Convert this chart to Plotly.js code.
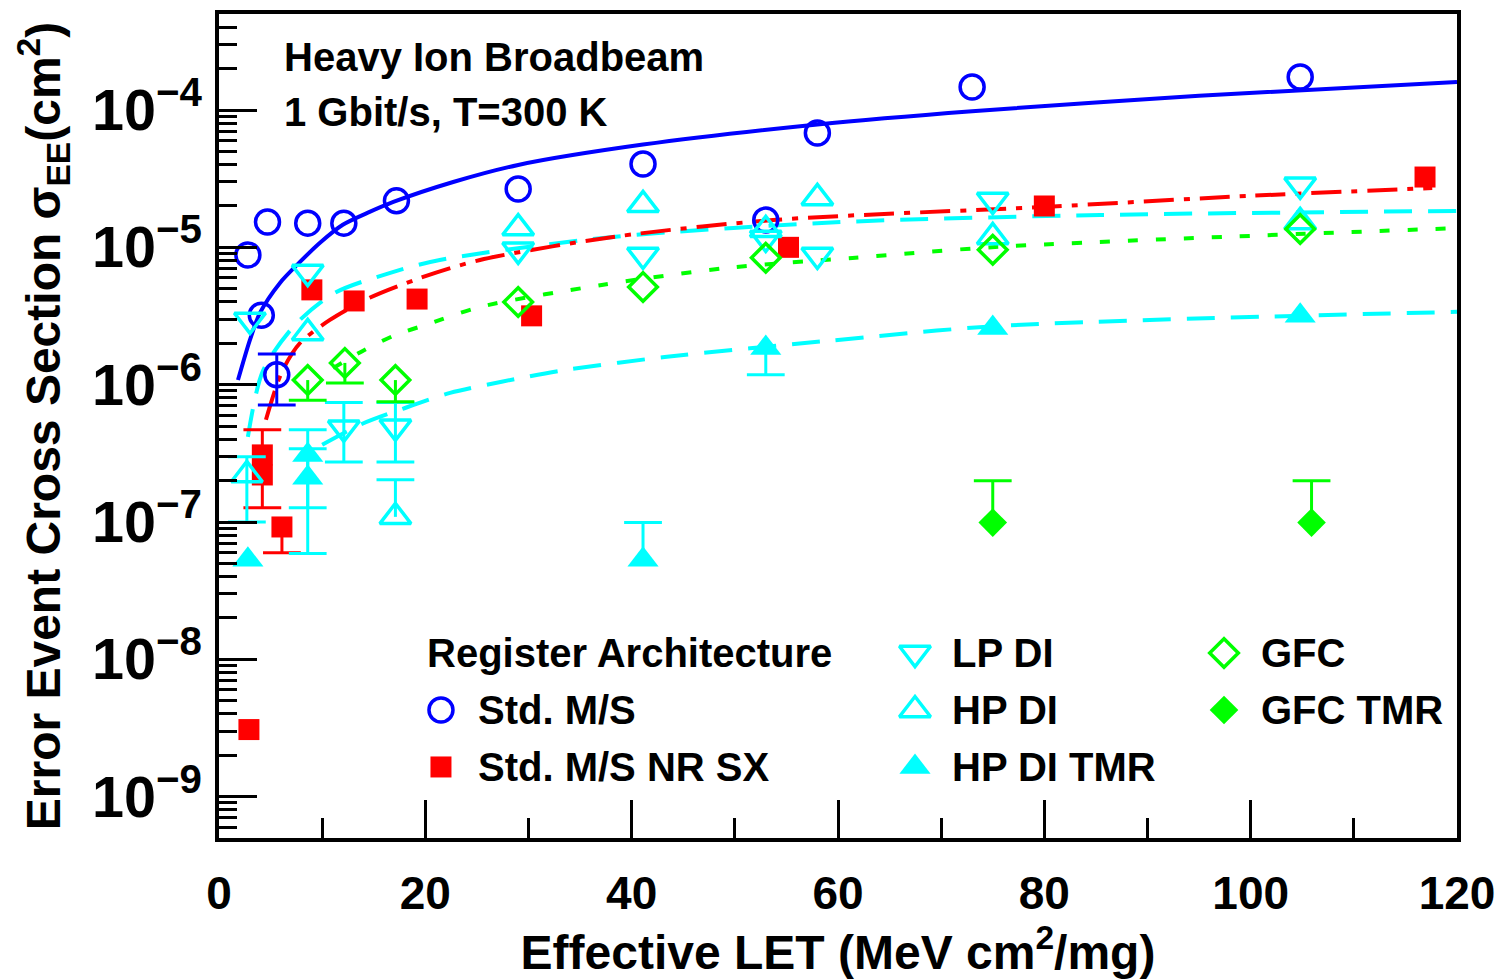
<!DOCTYPE html>
<html>
<head>
<meta charset="utf-8">
<script src="https://cdn.plot.ly/plotly-3.0.1.min.js"></script>
<style>
  html, body { margin: 0; padding: 0; background: #ffffff; }
  #chart { width: 1500px; height: 980px; }
</style>
</head>
<body>
<div id="chart"></div>
<script>
// ---- Measured cross sections (cm^2) vs effective LET (MeV cm^2/mg) ----
// errHi / errLo hold the absolute end of each error bar (null = no bar on that side)

// Std. M/S
const stdMsX = [2.8, 4.1, 4.7, 5.6, 8.6, 12.1, 17.2, 29.0, 41.1, 53.0, 58.0, 73.0, 104.8];
const stdMsY = [8.8e-6, 3.2e-6, 1.53e-5, 1.18e-6, 1.5e-5, 1.5e-5, 2.18e-5, 2.66e-5, 4.05e-5, 1.58e-5, 6.8e-5, 1.47e-4, 1.74e-4];
const stdMsErrHi = [null, null, null, 1.67e-6, null, null, null, null, null, null, null, null, null];
const stdMsErrLo = [null, null, null, 7.1e-7, null, null, null, null, null, null, null, null, null];

// Std. M/S NR SX
const nrSxX = [2.9, 4.2, 4.2, 6.1, 9.0, 13.1, 19.2, 30.3, 55.2, 80.0, 116.9];
const nrSxY = [3.08e-9, 3.08e-7, 2.2e-7, 9.2e-8, 4.9e-6, 4.07e-6, 4.2e-6, 3.17e-6, 1.0e-5, 2.0e-5, 3.25e-5];
const nrSxErrHi = [null, 4.69e-7, null, null, null, null, null, null, null, null, null];
const nrSxErrLo = [null, null, 1.27e-7, 5.97e-8, null, null, null, null, null, null, null];

// LP DI
const lpDiX = [3.0, 8.6, 12.1, 17.1, 29.0, 41.1, 53.0, 58.0, 75.0, 104.8];
const lpDiY = [2.96e-6, 6.6e-6, 4.85e-7, 4.93e-7, 9.6e-6, 8.8e-6, 1.17e-5, 8.8e-6, 2.21e-5, 2.85e-5];
const lpDiErrHi = [null, null, 7.4e-7, 7.4e-7, null, null, null, null, null, null];
const lpDiErrLo = [null, null, 2.74e-7, 2.74e-7, null, null, null, null, null, null];

// HP DI
const hpDiX = [2.7, 8.6, 17.1, 29.0, 41.1, 53.0, 58.0, 75.0, 104.8];
const hpDiY = [2.2e-7, 2.38e-6, 1.09e-7, 1.38e-5, 2.04e-5, 1.34e-5, 2.29e-5, 1.19e-5, 1.53e-5];
const hpDiErrHi = [2.98e-7, null, 2.03e-7, null, null, null, null, null, null];
const hpDiErrLo = [1.0e-7, null, null, null, null, null, null, null, null];

// HP DI TMR
const hpTmrX = [2.8, 8.6, 8.6, 41.1, 53.0, 75.0, 104.8];
const hpTmrY = [5.3e-8, 3.08e-7, 2.1e-7, 5.3e-8, 1.85e-6, 2.59e-6, 3.17e-6];
const hpTmrErrHi = [null, 4.69e-7, 3.41e-7, 9.9e-8, null, null, null];
const hpTmrErrLo = [null, 1.27e-7, 5.9e-8, null, 1.18e-6, null, null];

// GFC
const gfcX = [8.6, 12.2, 17.1, 29.0, 41.1, 53.0, 75.0, 104.8];
const gfcY = [1.08e-6, 1.44e-6, 1.08e-6, 4.0e-6, 5.15e-6, 8.4e-6, 9.6e-6, 1.36e-5];
const gfcErrHi = [null, null, null, null, null, null, null, null];
const gfcErrLo = [7.7e-7, 1.03e-6, 7.5e-7, null, null, null, null, null];

// GFC TMR
const gfcTmrX = [75.0, 105.9];
const gfcTmrY = [9.9e-8, 9.9e-8];
const gfcTmrErrHi = [2.0e-7, 2.0e-7];
const gfcTmrErrLo = [null, null];

// ---- Fitted cross-section curves (sampled) ----
const fitStdMsX = [1.84, 3.0, 3.97, 5.91, 7.85, 9.79, 12.0, 14.6, 16.9, 22.7, 29.0, 41.1, 58.0, 73.0, 95.0, 120.0];
const fitStdMsY = [1.08e-6, 2.12e-6, 3.33e-6, 5.51e-6, 7.83e-6, 1.08e-5, 1.46e-5, 1.81e-5, 2.14e-5, 2.99e-5, 3.98e-5, 5.6e-5, 7.85e-5, 9.8e-5, 1.27e-4, 1.6e-4];

const fitNrSxX = [4.55, 6.1, 7.85, 10.75, 14.6, 19.5, 25.3, 38.2, 53.7, 80, 99.9, 117.6];
const fitNrSxY = [5.55e-7, 1.24e-6, 2.01e-6, 2.96e-6, 4.29e-6, 5.98e-6, 8.09e-6, 1.19e-5, 1.58e-5, 1.97e-5, 2.37e-5, 2.7e-5];

const fitDiX = [2.8, 4.26, 7.36, 11.2, 16.6, 21.4, 38.2, 60.5, 85.4, 120];
const fitDiY = [4.17e-7, 1.26e-6, 2.72e-6, 4.65e-6, 6.52e-6, 8.09e-6, 1.19e-5, 1.53e-5, 1.72e-5, 1.84e-5];

const fitGfcX = [11.05, 14.1, 17.1, 20, 25.3, 37.1, 49.2, 61.4, 75.7, 120];
const fitGfcY = [1.32e-6, 1.79e-6, 2.3e-6, 2.72e-6, 3.68e-6, 5.32e-6, 7.08e-6, 8.37e-6, 1.01e-5, 1.38e-5];

const fitTmrX = [10.0, 13.9, 17.8, 22.4, 27.4, 33.0, 43.2, 58.9, 75.7, 120];
const fitTmrY = [3.65e-7, 5.19e-7, 6.67e-7, 8.71e-7, 1.05e-6, 1.26e-6, 1.59e-6, 2.08e-6, 2.68e-6, 3.39e-6];

// ---- Text ----
const infoLines = ['Heavy Ion Broadbeam', '1 Gbit/s, T=300 K'];
const legendHeader = 'Register Architecture';
const xTitle = 'Effective LET (MeV cm<sup>2</sup>/mg)';
const yTitle = 'Error Event Cross Section \u03c3<sub>EE</sub>(cm<sup>2</sup>)';

// ---- Styling ----
const FONT = 'Liberation Sans, Arial, Helvetica, sans-serif';
const BLUE = '#0000ff', RED = '#ff0000', CYAN = '#00ffff', GREEN = '#00ff00';

const series = [
  { name: 'Std. M/S', x: stdMsX, y: stdMsY, hi: stdMsErrHi, lo: stdMsErrLo, color: BLUE,
    symbol: 'circle-open', size: 24, lw: 3.5 },
  { name: 'Std. M/S NR SX', x: nrSxX, y: nrSxY, hi: nrSxErrHi, lo: nrSxErrLo, color: RED,
    symbol: 'square', size: 21, lw: 0 },
  { name: 'LP DI', x: lpDiX, y: lpDiY, hi: lpDiErrHi, lo: lpDiErrLo, color: CYAN,
    symbol: 'triangle-down-open', size: 27, lw: 3.5 },
  { name: 'HP DI', x: hpDiX, y: hpDiY, hi: hpDiErrHi, lo: hpDiErrLo, color: CYAN,
    symbol: 'triangle-up-open', size: 27, lw: 3.5 },
  { name: 'HP DI TMR', x: hpTmrX, y: hpTmrY, hi: hpTmrErrHi, lo: hpTmrErrLo, color: CYAN,
    symbol: 'triangle-up', size: 27, lw: 0 },
  { name: 'GFC', x: gfcX, y: gfcY, hi: gfcErrHi, lo: gfcErrLo, color: GREEN,
    symbol: 'diamond-open', size: 22, lw: 3.5 },
  { name: 'GFC TMR', x: gfcTmrX, y: gfcTmrY, hi: gfcTmrErrHi, lo: gfcTmrErrLo, color: GREEN,
    symbol: 'diamond', size: 22, lw: 0 }
];

const fits = [
  { x: fitStdMsX, y: fitStdMsY, color: BLUE, dash: 'solid' },
  { x: fitDiX, y: fitDiY, color: CYAN, dash: '28px,16px' },
  { x: fitNrSxX, y: fitNrSxY, color: RED, dash: '30px,10px,6px,10px' },
  { x: fitGfcX, y: fitGfcY, color: GREEN, dash: '10px,18px' },
  { x: fitTmrX, y: fitTmrY, color: CYAN, dash: '28px,16px' }
];

const traces = [];

// fit curves underneath the data
fits.forEach(f => {
  traces.push({
    type: 'scatter', mode: 'lines', x: f.x, y: f.y, showlegend: false, hoverinfo: 'skip',
    line: { color: f.color, width: 4, dash: f.dash, shape: 'spline', smoothing: 0.8 }
  });
});

// data points with error bars (caps drawn as horizontal line markers)
series.forEach(s => {
  const up = s.y.map((v, i) => s.hi[i] == null ? 0 : s.hi[i] - v);
  const dn = s.y.map((v, i) => s.lo[i] == null ? 0 : v - s.lo[i]);
  traces.push({
    type: 'scatter', mode: 'markers', name: s.name, x: s.x, y: s.y, showlegend: false,
    error_y: { type: 'data', symmetric: false, array: up, arrayminus: dn,
               color: s.color, thickness: 3, width: 0 },
    marker: s.lw > 0
      ? { symbol: s.symbol, size: s.size, color: s.color, line: { color: s.color, width: s.lw } }
      : { symbol: s.symbol, size: s.size, color: s.color, line: { width: 0 } }
  });
  const capX = [], capY = [];
  s.x.forEach((xv, i) => {
    if (s.hi[i] != null) { capX.push(xv); capY.push(s.hi[i]); }
    if (s.lo[i] != null) { capX.push(xv); capY.push(s.lo[i]); }
  });
  if (capX.length) {
    traces.push({
      type: 'scatter', mode: 'markers', x: capX, y: capY, showlegend: false, hoverinfo: 'skip',
      marker: { symbol: 'line-ew', size: 27, line: { color: s.color, width: 3 } }
    });
  }
});

// legend key: three columns on an overlay axis spanning the plot area
const legendCols = [
  { sym: 0.1793, txt: 0.2076, rows: [0.1553, 0.0862], items: [0, 1] },
  { sym: 0.5622, txt: 0.5905, rows: [0.2245, 0.1553, 0.0862], items: [2, 3, 4] },
  { sym: 0.8118, txt: 0.8401, rows: [0.2245, 0.1553], items: [5, 6] }
];

const annotations = [];
legendCols.forEach(col => {
  col.items.forEach((idx, r) => {
    const s = series[idx];
    traces.push({
      type: 'scatter', mode: 'markers', x: [col.sym], y: [col.rows[r]], xaxis: 'x2', yaxis: 'y2',
      showlegend: false, hoverinfo: 'skip',
      marker: s.lw > 0
        ? { symbol: s.symbol, size: s.size, color: s.color, line: { color: s.color, width: s.lw } }
        : { symbol: s.symbol, size: s.size, color: s.color, line: { width: 0 } }
    });
    annotations.push({
      xref: 'paper', yref: 'paper', x: col.txt, y: col.rows[r], xanchor: 'left', yanchor: 'middle',
      text: s.name, showarrow: false, font: { family: FONT, size: 40, color: '#000', weight: 'bold' }
    });
  });
});
annotations.push({
  xref: 'paper', yref: 'paper', x: 0.1664, y: 0.2245, xanchor: 'left', yanchor: 'middle',
  text: legendHeader, showarrow: false, font: { family: FONT, size: 40, color: '#000', weight: 'bold' }
});
infoLines.forEach((t, i) => {
  annotations.push({
    xref: 'paper', yref: 'paper', x: 0.0509, y: [0.9478, 0.8811][i], xanchor: 'left', yanchor: 'middle',
    text: t, showarrow: false, font: { family: FONT, size: 40, color: '#000', weight: 'bold' }
  });
});

const layout = {
  width: 1500, height: 980,
  margin: { l: 219, r: 43, t: 14, b: 142, pad: 0 },
  paper_bgcolor: '#ffffff', plot_bgcolor: '#ffffff',
  showlegend: false,
  font: { family: FONT, color: '#000' },
  xaxis: {
    range: [0, 120], dtick: 20, tick0: 0,
    showline: true, linecolor: '#000', linewidth: 4, mirror: true,
    ticks: 'inside', ticklen: 38, tickwidth: 3, tickcolor: '#000',
    minor: { dtick: 10, ticks: 'inside', ticklen: 20, tickwidth: 3, tickcolor: '#000' },
    showgrid: false, zeroline: false,
    tickfont: { family: FONT, size: 46, color: '#000', weight: 'bold' },
    ticklabelstandoff: 12,
    title: { text: xTitle, standoff: 12, font: { family: FONT, size: 48, color: '#000', weight: 'bold' } }
  },
  yaxis: {
    type: 'log', range: [-9.301, -3.301], dtick: 1,
    exponentformat: 'power', showexponent: 'all',
    showline: true, linecolor: '#000', linewidth: 4, mirror: true,
    ticks: 'inside', ticklen: 38, tickwidth: 3, tickcolor: '#000',
    minor: { dtick: 'D1', ticks: 'inside', ticklen: 18, tickwidth: 3, tickcolor: '#000' },
    showgrid: false, zeroline: false,
    tickfont: { family: FONT, size: 46, color: '#000', weight: 'bold' },
    ticklabelstandoff: 4,
    title: { text: yTitle, standoff: 17, font: { family: FONT, size: 48, color: '#000', weight: 'bold' } }
  },
  xaxis2: { overlaying: 'x', anchor: 'y2', range: [0, 1], visible: false, fixedrange: true },
  yaxis2: { overlaying: 'y', anchor: 'x2', range: [0, 1], visible: false, fixedrange: true },
  annotations: annotations
};

Plotly.newPlot('chart', traces, layout, { staticPlot: true, displayModeBar: false });
</script>
</body>
</html>
